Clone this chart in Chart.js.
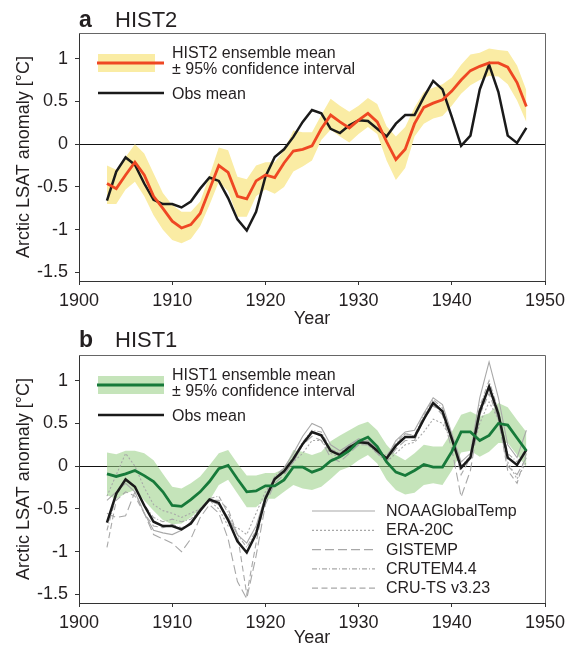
<!DOCTYPE html>
<html>
<head>
<meta charset="utf-8">
<script src="https://cdn.jsdelivr.net/npm/chart.js@4.4.1/dist/chart.umd.min.js"></script>
<style>
body { margin: 0; background: #fff; }
#wrap { position: relative; width: 571px; height: 649px; }
#chartA { position: absolute; left: 0; top: 0; }
#chartB { position: absolute; left: 0; top: 330px; }
</style>
</head>
<body>
<div id="wrap">
  <canvas id="chartA" width="571" height="330"></canvas>
  <canvas id="chartB" width="571" height="319"></canvas>
</div>
<script>
// years of the series
const years = [1903,1904,1905,1906,1907,1908,1909,1910,1911,1912,
  1913,1914,1915,1916,1917,1918,1919,1920,1921,1922,
  1923,1924,1925,1926,1927,1928,1929,1930,1931,1932,
  1933,1934,1935,1936,1937,1938,1939,1940,1941,1942,
  1943,1944,1945,1946,1947,1948];

const xTicks = [1900, 1910, 1920, 1930, 1940, 1950];
const yTicks = [-1.5, -1, -0.5, 0, 0.5, 1];

// observations (mean of the five datasets)
const obsMean = [-0.66,-0.32,-0.155,-0.24,-0.46,-0.65,-0.70,-0.70,-0.74,-0.67,
  -0.52,-0.39,-0.43,-0.63,-0.88,-1.01,-0.79,-0.38,-0.15,-0.06,
  0.085,0.26,0.40,0.36,0.18,0.13,0.22,0.28,0.27,0.18,
  0.09,0.24,0.34,0.34,0.55,0.74,0.64,0.32,-0.02,0.10,
  0.64,0.93,0.61,0.10,0.015,0.19];

// HIST2 ensemble
const hist2Mean = [-0.46,-0.52,-0.36,-0.21,-0.36,-0.61,-0.75,-0.90,-0.98,-0.94,
  -0.81,-0.53,-0.25,-0.33,-0.61,-0.64,-0.43,-0.36,-0.39,-0.22,
  -0.08,-0.06,-0.02,0.18,0.34,0.26,0.19,0.28,0.36,0.26,
  0.03,-0.18,-0.06,0.24,0.43,0.48,0.52,0.62,0.75,0.86,
  0.91,0.95,0.95,0.90,0.72,0.44];
const hist2Hi = [-0.25,-0.30,-0.15,0.00,-0.11,-0.34,-0.57,-0.71,-0.79,-0.79,
  -0.67,-0.37,-0.04,-0.07,-0.38,-0.41,-0.25,-0.21,-0.21,-0.07,
  0.16,0.14,0.14,0.34,0.53,0.45,0.38,0.45,0.54,0.47,
  0.21,0.09,0.20,0.43,0.61,0.66,0.70,0.78,0.93,1.05,
  1.07,1.12,1.10,1.09,0.92,0.63];
const hist2Lo = [-0.70,-0.70,-0.53,-0.44,-0.61,-0.83,-1.00,-1.12,-1.16,-1.11,
  -0.96,-0.71,-0.44,-0.55,-0.85,-0.85,-0.61,-0.53,-0.58,-0.50,
  -0.32,-0.26,-0.19,0.05,0.17,0.09,0.02,0.12,0.20,0.12,
  -0.19,-0.42,-0.28,0.09,0.24,0.30,0.33,0.45,0.59,0.69,
  0.75,0.80,0.79,0.70,0.51,0.26];

// HIST1 ensemble
const hist1Mean = [-0.09,-0.12,-0.09,-0.05,-0.11,-0.18,-0.30,-0.46,-0.47,-0.39,
  -0.30,-0.18,-0.03,0.01,-0.15,-0.30,-0.29,-0.23,-0.23,-0.16,
  -0.01,-0.01,-0.07,-0.03,0.06,0.11,0.18,0.29,0.34,0.23,
  0.05,-0.07,-0.11,-0.05,0.02,-0.01,-0.01,0.17,0.40,0.40,
  0.30,0.36,0.50,0.48,0.33,0.18];
const hist1Hi = [0.16,0.14,0.18,0.18,0.15,0.07,-0.09,-0.24,-0.26,-0.20,
  -0.12,0.01,0.15,0.19,0.03,-0.11,-0.11,-0.08,-0.08,-0.03,
  0.19,0.17,0.13,0.17,0.29,0.36,0.42,0.48,0.52,0.42,
  0.25,0.13,0.07,0.15,0.25,0.23,0.23,0.40,0.60,0.64,
  0.58,0.62,0.74,0.69,0.54,0.40];
const hist1Lo = [-0.34,-0.38,-0.32,-0.28,-0.40,-0.52,-0.63,-0.68,-0.67,-0.60,
  -0.50,-0.40,-0.22,-0.16,-0.32,-0.48,-0.48,-0.38,-0.38,-0.30,
  -0.22,-0.26,-0.28,-0.24,-0.15,-0.05,-0.01,0.07,0.13,0.03,
  -0.16,-0.28,-0.33,-0.31,-0.22,-0.20,-0.22,-0.05,0.16,0.18,
  0.11,0.17,0.27,0.27,0.13,-0.01];

// individual observational datasets
const noaa = [-0.40,-0.30,-0.20,-0.30,-0.55,-0.75,-0.78,-0.80,-0.75,-0.65,
  -0.50,-0.40,-0.45,-0.60,-0.80,-0.90,-0.70,-0.35,-0.15,-0.02,
  0.15,0.35,0.50,0.45,0.25,0.18,0.25,0.32,0.30,0.20,
  0.10,0.30,0.40,0.42,0.62,0.80,0.72,0.38,0.05,0.15,
  0.80,1.22,0.80,0.25,0.10,0.42];
const era20c = [-0.35,-0.10,0.15,0.00,-0.25,-0.45,-0.52,-0.55,-0.60,-0.55,
  -0.50,-0.40,-0.50,-0.70,-0.72,-0.80,-0.55,-0.30,-0.15,-0.05,
  0.05,0.15,0.30,0.30,0.15,0.10,0.20,0.25,0.25,0.15,
  0.05,0.15,0.25,0.28,0.40,0.55,0.50,0.30,0.00,0.10,
  0.50,0.75,0.55,0.05,-0.15,0.05];
const gistemp = [-0.55,-0.60,-0.58,-0.30,-0.55,-0.80,-0.85,-0.90,-1.00,-0.85,
  -0.60,-0.45,-0.55,-0.85,-1.35,-1.55,-1.05,-0.45,-0.20,-0.10,
  0.05,0.25,0.35,0.30,0.10,0.05,0.15,0.25,0.25,0.15,
  0.05,0.20,0.30,0.30,0.55,0.72,0.60,0.20,-0.36,-0.05,
  0.60,0.95,0.55,0.00,-0.10,0.10];
const crutem = [-0.75,-0.35,-0.15,-0.25,-0.45,-0.60,-0.65,-0.62,-0.65,-0.62,
  -0.50,-0.38,-0.35,-0.55,-0.80,-0.95,-0.75,-0.35,-0.12,-0.02,
  0.10,0.28,0.42,0.40,0.20,0.15,0.25,0.30,0.28,0.20,
  0.12,0.28,0.38,0.36,0.60,0.78,0.68,0.35,0.00,0.12,
  0.70,1.00,0.65,0.15,0.05,0.20];
const cruts = [-0.95,-0.40,-0.30,-0.35,-0.55,-0.70,-0.72,-0.68,-0.72,-0.68,
  -0.52,-0.40,-0.40,-0.50,-0.80,-1.50,-0.90,-0.35,-0.12,-0.10,
  0.05,0.25,0.40,0.35,0.20,0.15,0.25,0.30,0.28,0.20,
  0.10,0.25,0.38,0.35,0.55,0.70,0.65,0.35,-0.10,0.10,
  0.60,0.85,0.55,-0.05,-0.20,0.15];

const FONT = '"Liberation Sans", Arial, Helvetica, sans-serif';
Chart.defaults.font.family = FONT;
Chart.defaults.color = '#231f20';

const pts = arr => arr.map((v, i) => ({ x: years[i], y: v }));

const grayObs = [
  { label: 'NOAAGlobalTemp', data: noaa, dash: [] },
  { label: 'ERA-20C', data: era20c, dash: [2, 2] },
  { label: 'GISTEMP', data: gistemp, dash: [9, 4] },
  { label: 'CRUTEM4.4', data: crutem, dash: [5, 2, 1, 2] },
  { label: 'CRU-TS v3.23', data: cruts, dash: [6, 3.5] }
];

// draws frame, panel title and legend
const decor = {
  id: 'decor',
  afterDraw(chart, args, o) {
    const ctx = chart.ctx;
    const a = chart.chartArea;
    ctx.save();
    ctx.strokeStyle = '#666';
    ctx.lineWidth = 1;
    ctx.beginPath();
    ctx.moveTo(a.left, a.top + 0.5);
    ctx.lineTo(a.right + 0.5, a.top + 0.5);
    ctx.lineTo(a.right + 0.5, a.bottom);
    ctx.stroke();

    ctx.fillStyle = '#231f20';
    ctx.textBaseline = 'alphabetic';
    ctx.textAlign = 'left';
    ctx.font = 'bold 23px ' + FONT;
    ctx.fillText(o.letter, 79, o.titleY);
    ctx.font = '22px ' + FONT;
    ctx.fillText(o.name, 115, o.titleY);

    // ensemble legend
    const ly = o.legendY;
    ctx.fillStyle = o.bandColor;
    ctx.fillRect(98, ly - 9, o.bandW, 18);
    ctx.strokeStyle = o.lineColor;
    ctx.lineWidth = 3;
    ctx.beginPath(); ctx.moveTo(97, ly); ctx.lineTo(164, ly); ctx.stroke();
    ctx.strokeStyle = '#1a1a1a';
    ctx.lineWidth = 2.5;
    ctx.beginPath(); ctx.moveTo(98, ly + 30); ctx.lineTo(164, ly + 30); ctx.stroke();
    ctx.fillStyle = '#231f20';
    ctx.font = '16px ' + FONT;
    ctx.fillText(o.name + ' ensemble mean', 172, ly - 5);
    ctx.fillText('\u00b1 95% confidence interval', 172, ly + 11);
    ctx.fillText('Obs mean', 172, ly + 36);

    if (o.grayLegend) {
      grayObs.forEach((g, i) => {
        const y = 181 + i * 19.3;
        ctx.strokeStyle = '#a8a8a8';
        ctx.lineWidth = 1.2;
        ctx.setLineDash(g.dash);
        ctx.beginPath(); ctx.moveTo(312, y); ctx.lineTo(375, y); ctx.stroke();
        ctx.setLineDash([]);
        ctx.fillStyle = '#231f20';
        ctx.fillText(g.label, 386, y + 5);
      });
    }
    ctx.restore();
  }
};

function makeScales(xH) {
  return {
    x: {
      type: 'linear', min: 1900, max: 1950,
      afterBuildTicks: s => { s.ticks = xTicks.map(v => ({ value: v })); },
      afterFit: s => { s.height = xH; },
      ticks: { font: { size: 18 }, padding: 5, maxRotation: 0, callback: v => String(v) },
      grid: { drawOnChartArea: false, tickLength: 4, color: '#333' },
      border: { color: '#333', width: 1 },
      title: { display: true, text: 'Year', font: { size: 18 }, padding: { top: 0, bottom: 0 } }
    },
    y: {
      type: 'linear', min: -1.6, max: 1.3,
      afterBuildTicks: s => { s.ticks = yTicks.map(v => ({ value: v })); },
      afterFit: s => { s.width = 79; },
      ticks: { font: { size: 18 }, padding: 7, callback: v => String(v) },
      grid: {
        tickLength: 4, tickColor: '#333', lineWidth: 1,
        color: c => (c.tick && c.tick.value === 0) ? '#111' : 'rgba(0,0,0,0)'
      },
      border: { color: '#333', width: 1 },
      title: { display: true, text: 'Arctic LSAT anomaly [\u00b0C]', font: { size: 18 }, padding: { top: 13, bottom: 0 } }
    }
  };
}

const line = (data, color, width, order, dash) => ({
  data: pts(data), borderColor: color, borderWidth: width, borderDash: dash || [],
  pointRadius: 0, tension: 0, fill: false, order: order
});

// panel a
new Chart(document.getElementById('chartA'), {
  type: 'line',
  data: {
    datasets: [
      { data: pts(hist2Lo), borderWidth: 0, pointRadius: 0, fill: false, order: 11 },
      { data: pts(hist2Hi), borderWidth: 0, pointRadius: 0, fill: '-1', backgroundColor: '#faeca4', order: 10 },
      line(obsMean, '#1a1a1a', 2.5, 1),
      line(hist2Mean, '#ef4723', 2.8, 0)
    ]
  },
  options: {
    responsive: false, animation: false,
    layout: { padding: { left: 0, right: 26, top: 33, bottom: 0 } },
    plugins: {
      legend: { display: false }, tooltip: { enabled: false },
      decor: { letter: 'a', name: 'HIST2', titleY: 27, legendY: 63, bandW: 57, bandColor: '#faeca4', lineColor: '#ef4723', grayLegend: false }
    },
    scales: makeScales(49)
  },
  plugins: [decor]
});

// panel b
const grayDs = grayObs.map((g, i) => line(g.data, '#a8a8a8', 1.1, 2 + i, g.dash));
new Chart(document.getElementById('chartB'), {
  type: 'line',
  data: {
    datasets: [
      { data: pts(hist1Lo), borderWidth: 0, pointRadius: 0, fill: false, order: 11 },
      { data: pts(hist1Hi), borderWidth: 0, pointRadius: 0, fill: '-1', backgroundColor: 'rgba(150,205,130,0.55)', order: 10 },
      ...grayDs,
      line(obsMean, '#1a1a1a', 2.5, 1),
      line(hist1Mean, '#177a3a', 2.8, 0)
    ]
  },
  options: {
    responsive: false, animation: false,
    layout: { padding: { left: 0, right: 26, top: 25, bottom: 0 } },
    plugins: {
      legend: { display: false }, tooltip: { enabled: false },
      decor: { letter: 'b', name: 'HIST1', titleY: 17, legendY: 55, bandW: 66, bandColor: 'rgba(150,205,130,0.55)', lineColor: '#177a3a', grayLegend: true }
    },
    scales: makeScales(46)
  },
  plugins: [decor]
});
</script>
</body>
</html>
